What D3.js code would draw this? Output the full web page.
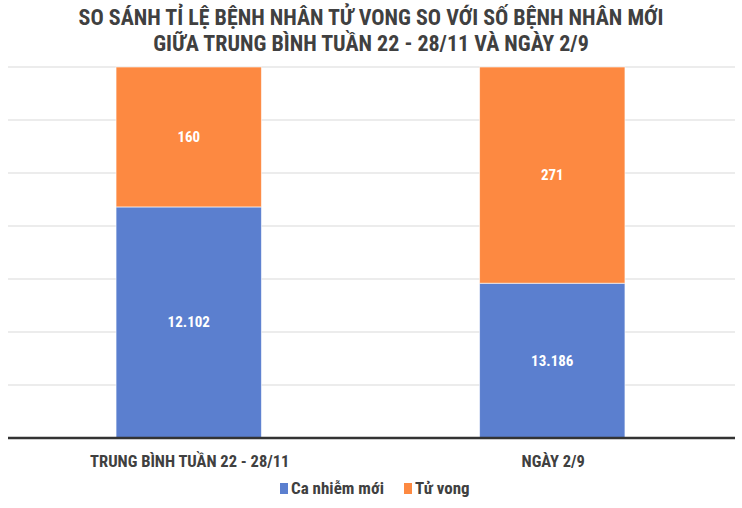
<!DOCTYPE html>
<html><head><meta charset="utf-8">
<script src="https://cdn.jsdelivr.net/npm/d3@7"></script>
<style>body{margin:0;background:#fff}</style>
</head><body>
<svg id="c" width="742" height="508"></svg>
<script>
const categories = ["TRUNG BÌNH TUẦN 22 - 28/11", "NGÀY 2/9"];
const seriesNames = ["Ca nhiễm mới", "Tử vong"];
const caNhiem = [4.36, 2.92];     // bar share (in grid units)
const tuVong = [2.64, 4.08];
const caNhiemLabels = ["12.102", "13.186"];
const tuVongLabels = ["160", "271"];
const titleLines = ["SO SÁNH TỈ LỆ BỆNH NHÂN TỬ VONG SO VỚI SỐ BỆNH NHÂN MỚI", "GIỮA TRUNG BÌNH TUẦN 22 - 28/11 VÀ NGÀY 2/9"];
const colors = ["#5b7fcf", "#fd8941"];
const font = "'Liberation Sans Narrow','Roboto Condensed','Liberation Sans',sans-serif";

(function () {
const svg = d3.select("#c");
const pl = 8, pr = 735, pt = 67, pb = 438;
const x = d3.scaleBand().domain(categories).range([pl, pr]).paddingInner(0.6).paddingOuter(0.3);
const y = d3.scaleLinear().domain([0, 7]).range([pb, pt]);

svg.append("g").selectAll("text").data(titleLines).join("text")
  .attr("x", 371).attr("y", (d, i) => 25 + i * 26)
  .attr("text-anchor", "middle").attr("font-family", font).attr("font-weight", "bold")
  .attr("font-size", 22).attr("fill", "#404040").text(d => d);

svg.append("g").selectAll("line").data(d3.range(1, 8)).join("line")
  .attr("x1", pl).attr("x2", pr).attr("y1", d => y(d)).attr("y2", d => y(d))
  .attr("stroke", "#d9d9d9").attr("stroke-width", 1);

const data = categories.map((c, i) => ({cat: c, a: caNhiem[i], b: tuVong[i], la: caNhiemLabels[i], lb: tuVongLabels[i]}));
const stack = d3.stack().keys(["a", "b"])(data);
const g = svg.append("g");
stack.forEach((s, si) => {
  g.append("g").selectAll("rect").data(s).join("rect")
    .attr("x", d => x(d.data.cat) - 1).attr("width", x.bandwidth())
    .attr("y", d => y(d[1])).attr("height", d => y(d[0]) - y(d[1]))
    .attr("fill", colors[si]).attr("stroke", "#fff").attr("stroke-opacity", 0.6).attr("stroke-width", 1);
  g.append("g").selectAll("text").data(s).join("text")
    .attr("x", d => x(d.data.cat) - 1 + x.bandwidth() / 2)
    .attr("y", d => (y(d[0]) + y(d[1])) / 2 + 5)
    .attr("text-anchor", "middle").attr("font-family", font).attr("font-weight", "bold")
    .attr("font-size", 15).attr("fill", "#fff")
    .text(d => si === 0 ? d.data.la : d.data.lb);
});

const xAxis = svg.append("g").attr("transform", `translate(0,${pb})`).call(d3.axisBottom(x).tickSize(0).tickPadding(17));
xAxis.select(".domain").attr("stroke", "#333").attr("stroke-width", 2.5).attr("d", `M${pl},0H${pr}`);
xAxis.selectAll("text").attr("font-family", font).attr("font-weight", "bold").attr("font-size", 16.5).attr("fill", "#404040");

const lg = svg.append("g");
const items = [{n: seriesNames[0], x: 280}, {n: seriesNames[1], x: 404}];
items.forEach((it, i) => {
  lg.append("rect").attr("x", it.x).attr("y", 483).attr("width", 8).attr("height", 11).attr("fill", colors[i]);
  lg.append("text").attr("x", it.x + 11).attr("y", 494).attr("font-family", font).attr("font-weight", "bold")
    .attr("font-size", 17).attr("fill", "#404040").text(it.n);
});
})();
</script>
</body></html>
